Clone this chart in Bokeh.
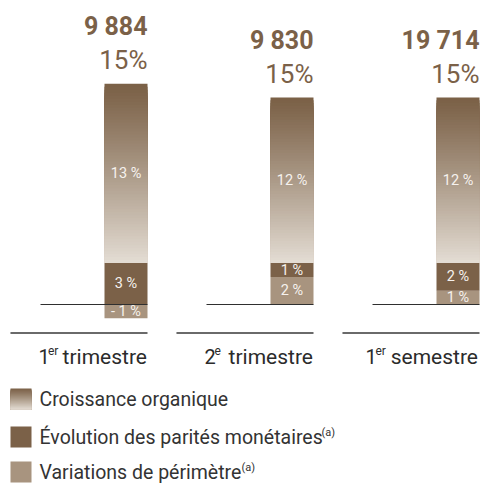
from bokeh.plotting import figure
from bokeh.models import Range1d
from bokeh.embed import file_html
from bokeh.resources import INLINE
from bokeh.core.properties import value

# ---------------- data ----------------
cat_num = ["1", "2", "1"]
cat_sup = ["er", "e", "er"]
cat_word = ["trimestre", "trimestre", "semestre"]
totals = ["9 884", "9 830", "19 714"]
total_growth = [15, 15, 15]
organic = [13, 12, 12]
currency = [3, 1, 2]
perimeter = [-1, 2, 1]
legend_labels = ["Croissance organique", "Évolution des parités monétaires", "Variations de périmètre"]
legend_notes = ["", "(a)", "(a)"]

# ---------------- layout / style ----------------
W, H = 482, 484
X0, XS = 125.5, 166.0     # px of first category, px per category
Y0, YS = 304.0, 13.8      # px of baseline, px per percent
HALF = 21.5 / XS

C_CUR = "#7b6148"
C_PER = "#a8947f"
C_TOP = (122, 96, 70)
C_BOT = (228, 221, 212)
C_LABEL = "#7b6148"
FONT = value("Roboto")


def X(px):
    return (px - X0) / XS


def Y(py):
    return (Y0 - py) / YS


def grad(t):
    t = t ** 1.1
    r, g, b = (round(C_TOP[i] + (C_BOT[i] - C_TOP[i]) * t) for i in range(3))
    return "#%02x%02x%02x" % (r, g, b)


def pct(v):
    return ("- %d %%" % (-v)) if v < 0 else ("%d %%" % v)


p = figure(width=W, height=H, output_backend="svg", toolbar_location=None,
           x_range=Range1d(X(0), X(W)), y_range=Range1d(Y(H), Y(0)),
           min_border=0, min_border_left=0, min_border_right=0,
           min_border_top=0, min_border_bottom=0)
p.xaxis.visible = False
p.yaxis.visible = False
p.grid.visible = False
p.outline_line_color = None
p.background_fill_color = "white"
p.border_fill_color = "white"

xs = list(range(len(organic)))
seg_l, seg_r, seg_b, seg_t, seg_c = [], [], [], [], []
lab_x, lab_y, lab_t = [], [], []
tops = []
N = 60
for i, x in enumerate(xs):
    per, cur, org = perimeter[i], currency[i], organic[i]
    if per >= 0:
        pb, pt = 0, per
        base = per
    else:
        pb, pt = per, 0
        base = 0
    cb, ct = base, base + cur
    ob, ot = ct, ct + org
    tops.append(ot)
    for (b, t, c, v) in ((pb, pt, C_PER, per), (cb, ct, C_CUR, cur)):
        seg_l.append(x - HALF); seg_r.append(x + HALF)
        seg_b.append(b); seg_t.append(t); seg_c.append(c)
        lab_x.append(x); lab_y.append((b + t) / 2); lab_t.append(pct(v))
    # organic gradient: each slice runs down to the segment bottom, later ones on top
    for k in range(N):
        t = ot - (ot - ob) * k / N
        seg_l.append(x - HALF); seg_r.append(x + HALF)
        seg_b.append(ob); seg_t.append(t)
        seg_c.append(grad((k + 0.5) / N))
    lab_x.append(x); lab_y.append((ob + ot) / 2); lab_t.append(pct(org))

p.quad(left=seg_l, right=seg_r, bottom=seg_b, top=seg_t,
       fill_color=seg_c, line_color=None)

# baseline lines
p.segment(x0=[x - 0.515 for x in xs], x1=[x + HALF for x in xs],
          y0=[0] * 3, y1=[0] * 3, line_color="#2f2f2f", line_width=1.2)
# separator lines
sep_y = Y(332.5)
p.segment(x0=[x - 0.696 for x in xs], x1=[x + HALF for x in xs],
          y0=[sep_y] * 3, y1=[sep_y] * 3, line_color="#6a6a6a", line_width=2)

# segment labels
p.text(x=lab_x, y=lab_y, text=lab_t, text_align="center", text_baseline="middle",
       text_font=FONT, text_font_size="14.5px", text_color="#f6f2ee")

# totals
p.text(x=[x + HALF for x in xs], y=[t + 57 / YS for t in tops], text=totals,
       text_align="right", text_baseline="middle", text_font=FONT,
       text_font_size="25px", text_font_style="bold", text_color=C_LABEL)
p.text(x=[x + HALF for x in xs], y=[t + 24 / YS for t in tops],
       text=["%d%%" % v for v in total_growth],
       text_align="right", text_baseline="middle", text_font=FONT,
       text_font_size="26px", text_color=C_LABEL)

# category labels
cat_mid = Y(356)
num_px = [38, 204, 365]
sup_px = [47.5, 214, 375]
word_px = [146.5, 312.5, 477.5]
p.text(x=[X(v) for v in num_px], y=[cat_mid] * 3, text=cat_num,
       text_align="left", text_baseline="middle", text_font=FONT,
       text_font_size="20px", text_color="#2b2b2b")
p.text(x=[X(v) for v in sup_px], y=[Y(350)] * 3, text=cat_sup,
       text_align="left", text_baseline="middle", text_font=FONT,
       text_font_size="12px", text_color="#2b2b2b")
p.text(x=[X(v) for v in word_px], y=[cat_mid] * 3, text=cat_word,
       text_align="right", text_baseline="middle", text_font=FONT,
       text_font_size="21px", text_color="#2b2b2b")

# legend
sw_top = [388, 426, 461]
SW = 21
M = 21
gl, gr, gb, gt, gc = [], [], [], [], []
for k in range(M):
    t0 = sw_top[0] + SW * k / M
    gl.append(X(10)); gr.append(X(31))
    gt.append(Y(t0)); gb.append(Y(sw_top[0] + SW))
    gc.append(grad((k + 0.5) / M))
p.quad(left=gl, right=gr, bottom=gb, top=gt, fill_color=gc, line_color=None)
p.quad(left=[X(10)] * 2, right=[X(31)] * 2,
       top=[Y(sw_top[1]), Y(sw_top[2])], bottom=[Y(sw_top[1] + SW), Y(sw_top[2] + SW)],
       fill_color=[C_CUR, C_PER], line_color=None)
p.text(x=[X(39)] * 3, y=[Y(t + SW / 2) for t in sw_top], text=legend_labels,
       text_align="left", text_baseline="middle", text_font=FONT,
       text_font_size="19.5px", text_color="#333333")
note_px = [321, 241]
p.text(x=[X(v) for v in note_px], y=[Y(t + 6) for t in sw_top[1:]], text=legend_notes[1:],
       text_align="left", text_baseline="middle", text_font=FONT,
       text_font_size="11px", text_color="#333333")

open("out.html", "w").write(file_html(p, INLINE))
